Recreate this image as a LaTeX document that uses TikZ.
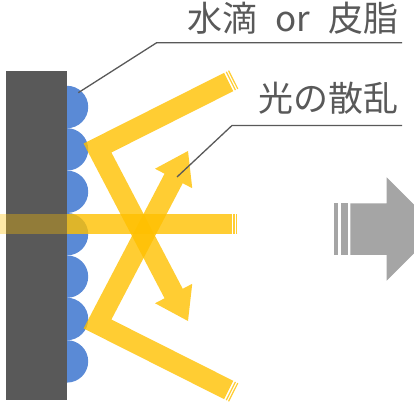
\documentclass[tikz,border=0pt]{standalone}
\usepackage{fontspec}
\newfontfamily\jpfont[WordSpace=2.3]{Noto Sans CJK JP}
\usetikzlibrary{calc}
\definecolor{wall}{HTML}{595959}
\definecolor{drop}{HTML}{5A8AD6}
\definecolor{ray}{HTML}{FFC000}
\definecolor{note}{HTML}{595959}
\definecolor{flow}{HTML}{A5A5A5}
\tikzstyle{beam} = [draw=ray, line width=20.5pt, line join=miter]
\tikzstyle{lbl} = [anchor=south east, inner xsep=3.5pt, text=note,
    font=\jpfont\fontsize{35}{40}\selectfont]
\tikzstyle{leader} = [draw=note, line width=1.3pt]
% filled head of a ray: tip at #1, pointing away from #2
\newcommand{\rayhead}[2]{\fill[ray] ($(#1)!31pt!(#2)!21pt!90:(#1)$) -- (#1)
    -- ($(#1)!31pt!(#2)!21pt!-90:(#1)$) -- cycle;}

\begin{document}
\begin{tikzpicture}[x=1pt, y=1pt]
\useasboundingbox (0,0) rectangle (414,404);
\clip (0,0) rectangle (414,404);

% wall with droplets on its face
\fill[wall] (6,4) rectangle (67,333);
\foreach \k in {0,...,6}
  \fill[drop] (67,318.2-42.4*\k) arc[start angle=90, end angle=-90, radius=21.2] -- cycle;

% straight ray, faint where it runs through the wall
\path[beam, draw opacity=.35] (67,180.2) -- (0,180.2);
\path[beam, draw opacity=.8, dash pattern=on 1.3pt off 1.5pt on 1.2pt off 1.7pt on 500pt]
    (237.3,180.2) -- (67,180.2);

% scattered rays
\coordinate (in1) at (233.7,324.5);
\coordinate (hit1) at (97.5,256);
\coordinate (tip1) at (188,83);
\coordinate (in2) at (233.7,11.5);
\coordinate (hit2) at (97.5,80);
\coordinate (tip2) at (188,253);
\foreach \i in {1,2} {
  \begin{scope}[transparency group, opacity=.8]
    \path[beam, shorten >=20pt, dash pattern=on 1.2pt off 1.4pt on 1.2pt off 1.8pt on 500pt]
        (in\i) -- (hit\i) -- (tip\i);
    \rayhead{tip\i}{hit\i}
  \end{scope}
}

% big arrow on the right
\fill[flow] (350.3,149) -- (386.7,149) -- (386.7,123.3) -- (438.4,175)
    -- (386.7,226.7) -- (386.7,200.7) -- (350.3,200.7) -- cycle;
\fill[flow] (334.3,149) rectangle (337.7,200.7);
\fill[flow] (341,149) rectangle (347.7,200.7);

% labels
\node[lbl, inner ysep=7.7pt] (dropTxt) at (402,361.3) {水滴 or 皮脂};
\node[lbl, inner ysep=10.5pt] (scatTxt) at (402,278.5) {光の散乱};
\coordinate (dropBend) at (156.7,361.3);
\coordinate (dropPt) at (78.3,311.3);
\coordinate (scatBend) at (232,278.5);
\coordinate (scatPt) at (177,227);
\path[leader] (dropTxt.south east) -- (dropBend) -- (dropPt);
\path[leader] (scatTxt.south east) -- (scatBend) -- (scatPt);
\end{tikzpicture}
\end{document}
